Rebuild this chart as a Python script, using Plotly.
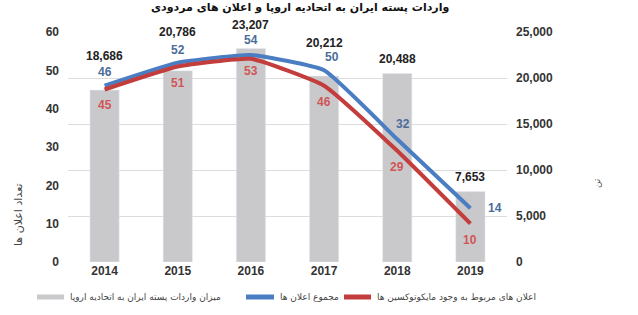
import plotly.graph_objects as go

years = ["2014", "2015", "2016", "2017", "2018", "2019"]
imports_tons = [18686, 20786, 23207, 20212, 20488, 7653]
total_notices = [46, 52, 54, 50, 32, 14]
mycotoxin_notices = [45, 51, 53, 46, 29, 10]

bar_name = "میزان واردات پسته ایران به اتحادیه اروپا"
blue_name = "مجموع اعلان ها"
red_name = "اعلان های مربوط به وجود مایکوتوکسین ها"
title_text = "واردات پسته ایران به اتحادیه اروپا و اعلان های مردودی"
left_title = "تعداد اعلان ها"
right_title = "تن"

# style-only: pixel offsets for value labels
bar_label_shift = [31, 36, 21, 30, 12, 12]
blue_label_dx = [0, 0, 0, 8, 6, 16]
blue_label_dy = [14, 13, 15, 13, 15, 0]
red_label_dy = [-15, -16, -12, -16, -16, -16]

BLUE = "#4a7dc2"
RED = "#c43d3d"
GRAY = "#c9c9cc"
FONT = "Liberation Sans, Arial, DejaVu Sans"

W, H = 638, 315
ML, MR, MT, MB = 68, 131, 32, 53
PW, PH = W - ML - MR, H - MT - MB


def px_x(p):
    return (p - ML) / PW


def px_y(p):
    return (H - MB - p) / PH


fig = go.Figure()

fig.add_trace(go.Bar(
    x=years, y=imports_tons, marker_color=GRAY, width=0.4,
    xaxis="x", yaxis="y", showlegend=False, hoverinfo="skip", name=bar_name,
))

fig.add_trace(go.Scatter(
    x=years, y=total_notices, xaxis="x", yaxis="y2", mode="lines",
    line=dict(color=BLUE, width=4, shape="spline", smoothing=0.4),
    name=blue_name, showlegend=False,
))
fig.add_trace(go.Scatter(
    x=years, y=mycotoxin_notices, xaxis="x", yaxis="y2", mode="lines",
    line=dict(color=RED, width=4, shape="spline", smoothing=0.4),
    name=red_name, showlegend=False,
))

for i, (v, s) in enumerate(zip(imports_tons, bar_label_shift)):
    fig.add_annotation(x=i, y=v, xref="x", yref="y", text=f"{v:,}", showarrow=False,
                       yanchor="bottom", yshift=s - 6,
                       font=dict(size=12, color="#222", family=FONT, weight="bold"))

for i, (v, dx, dy) in enumerate(zip(total_notices, blue_label_dx, blue_label_dy)):
    fig.add_annotation(x=i, y=v, xref="x", yref="y2", text=str(v), showarrow=False,
                       xanchor="left" if dx > 10 else "center", yanchor="middle",
                       xshift=dx, yshift=dy,
                       font=dict(size=12, color="#4a6d9a", family=FONT, weight="bold"))

for i, (v, dy) in enumerate(zip(mycotoxin_notices, red_label_dy)):
    fig.add_annotation(x=i, y=v, xref="x", yref="y2", text=str(v), showarrow=False,
                       xanchor="center", yanchor="middle", yshift=dy,
                       font=dict(size=12, color="#d05656", family=FONT, weight="bold"))

# manual legend (swatch + label), one row
legend_items = [(bar_name, GRAY, 37, 64, 68), (blue_name, BLUE, 246, 274, 278), (red_name, RED, 344, 371, 375)]
ly = px_y(297)
for nm, col, x0, x1, tx in legend_items:
    fig.add_shape(type="line", xref="paper", yref="paper", x0=px_x(x0), x1=px_x(x1),
                  y0=ly, y1=ly, line=dict(color=col, width=5))
    fig.add_annotation(xref="paper", yref="paper", x=px_x(tx), y=ly, text=nm,
                       xanchor="left", yanchor="middle", showarrow=False,
                       font=dict(size=9, color="#444", family="DejaVu Sans"))

fig.add_annotation(xref="paper", yref="paper", x=px_x(18), y=px_y(215), text=left_title,
                   xanchor="center", yanchor="middle",
                   textangle=-90, showarrow=False,
                   font=dict(size=11, color="#444", family="DejaVu Sans"))
fig.add_annotation(xref="paper", yref="paper", x=px_x(597), y=px_y(183), text=right_title,
                   xanchor="center", yanchor="middle",
                   textangle=-90, showarrow=False,
                   font=dict(size=9, color="#555", family="DejaVu Sans"))
fig.add_annotation(xref="paper", yref="paper", x=px_x(300), y=px_y(8), yanchor="middle",
                   text=title_text, showarrow=False,
                   font=dict(size=11, color="#111", family="DejaVu Sans", weight="bold"))

fig.update_layout(
    width=W, height=H,
    margin=dict(l=ML, r=MR, t=MT, b=MB, autoexpand=False),
    paper_bgcolor="white", plot_bgcolor="white",
    font=dict(family=FONT),
    showlegend=False,
    hovermode=False,
    xaxis=dict(type="category", categoryorder="array", categoryarray=years,
               range=[-0.5, len(years) - 0.5], autorange=False,
               showgrid=False, showline=False, ticks="",
               tickfont=dict(size=12, color="#333", family=FONT, weight="bold")),
    yaxis=dict(side="right", range=[0, 25000], dtick=5000, tickformat=",",
               showgrid=True, gridcolor="#dcdcdc", zeroline=False,
               ticklabelstandoff=8,
               tickfont=dict(size=12, color="#333", family=FONT, weight="bold")),
    yaxis2=dict(side="left", overlaying="y", range=[0, 60], dtick=10,
                showgrid=False, zeroline=False, ticklabelstandoff=8,
                tickfont=dict(size=12, color="#333", family=FONT, weight="bold")),
)

fig.write_html("out.html", config={"displayModeBar": False},
               post_script="document.body.style.margin='0px';document.body.style.overflow='hidden';")
